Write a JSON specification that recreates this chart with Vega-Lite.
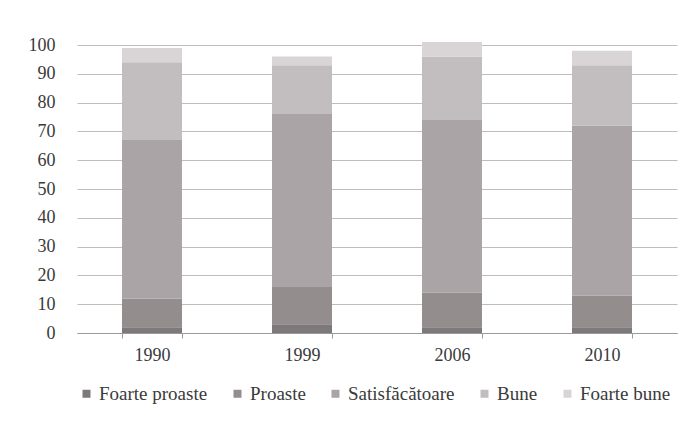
{
  "$schema": "https://vega.github.io/schema/vega-lite/v6.json",
  "width": 600,
  "height": 288,
  "autosize": {"type": "none"},
  "padding": {"left": 77, "top": 45, "right": 20, "bottom": 93},
  "background": "#ffffff",
  "config": {
    "view": {"stroke": null},
    "font": "'Liberation Serif', 'Times New Roman', serif",
    "axis": {"labelFont": "'Liberation Serif', 'Times New Roman', serif", "labelFontSize": 18, "labelColor": "#3a3a3a"},
    "legend": {"labelFont": "'Liberation Serif', 'Times New Roman', serif", "labelFontSize": 19, "labelColor": "#3a3a3a"}
  },
  "data": {
    "values": [
      {"an": "1990", "stare": "Foarte proaste", "ord": 1, "v": 2},
      {"an": "1990", "stare": "Proaste", "ord": 2, "v": 10},
      {"an": "1990", "stare": "Satisfăcătoare", "ord": 3, "v": 55},
      {"an": "1990", "stare": "Bune", "ord": 4, "v": 27},
      {"an": "1990", "stare": "Foarte bune", "ord": 5, "v": 5},
      {"an": "1999", "stare": "Foarte proaste", "ord": 1, "v": 3},
      {"an": "1999", "stare": "Proaste", "ord": 2, "v": 13},
      {"an": "1999", "stare": "Satisfăcătoare", "ord": 3, "v": 60},
      {"an": "1999", "stare": "Bune", "ord": 4, "v": 17},
      {"an": "1999", "stare": "Foarte bune", "ord": 5, "v": 3},
      {"an": "2006", "stare": "Foarte proaste", "ord": 1, "v": 2},
      {"an": "2006", "stare": "Proaste", "ord": 2, "v": 12},
      {"an": "2006", "stare": "Satisfăcătoare", "ord": 3, "v": 60},
      {"an": "2006", "stare": "Bune", "ord": 4, "v": 22},
      {"an": "2006", "stare": "Foarte bune", "ord": 5, "v": 5},
      {"an": "2010", "stare": "Foarte proaste", "ord": 1, "v": 2},
      {"an": "2010", "stare": "Proaste", "ord": 2, "v": 11},
      {"an": "2010", "stare": "Satisfăcătoare", "ord": 3, "v": 59},
      {"an": "2010", "stare": "Bune", "ord": 4, "v": 21},
      {"an": "2010", "stare": "Foarte bune", "ord": 5, "v": 5}
    ]
  },
  "mark": {"type": "bar"},
  "encoding": {
    "x": {
      "field": "an", "type": "nominal", "title": null,
      "scale": {"paddingInner": 0.6, "paddingOuter": 0.3},
      "axis": {"labelAngle": 0, "tickBand": "extent", "domainColor": "#9a9a9a", "tickColor": "#9a9a9a", "tickSize": 5, "labelPadding": 8, "grid": false}
    },
    "y": {
      "field": "v", "type": "quantitative", "stack": "zero", "title": null,
      "scale": {"domain": [0, 100], "nice": false},
      "axis": {"values": [0,10,20,30,40,50,60,70,80,90,100], "domain": false, "ticks": false, "labelPadding": 22, "gridColor": "#bdbdbd", "gridWidth": 1}
    },
    "color": {
      "field": "stare", "type": "nominal",
      "sort": ["Foarte proaste", "Proaste", "Satisfăcătoare", "Bune", "Foarte bune"],
      "scale": {"domain": ["Foarte proaste", "Proaste", "Satisfăcătoare", "Bune", "Foarte bune"], "range": ["#7d7879", "#938d8e", "#aaa4a6", "#c2bdbe", "#d9d5d6"]},
      "legend": {"title": null, "orient": "bottom", "direction": "horizontal", "symbolType": "square", "symbolSize": 64, "columnPadding": 20, "offset": 20, "labelOffset": 3, "symbolStrokeWidth": 0}
    },
    "order": {"field": "ord", "type": "quantitative"}
  }
}
